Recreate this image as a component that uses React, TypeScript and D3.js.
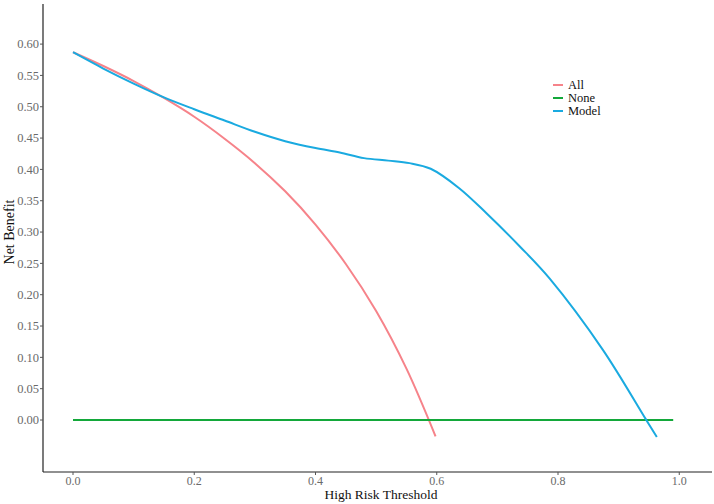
import React from "react";
import * as d3 from "d3";

type Pt = { t: number; nb: number };

// threshold probabilities and net benefit
const allThresholds = [0, 0.05, 0.1, 0.15, 0.2, 0.25, 0.3, 0.35, 0.4, 0.45, 0.5, 0.55, 0.598];
const allBenefit = [0.587, 0.565, 0.541, 0.514, 0.484, 0.449, 0.41, 0.365, 0.312, 0.249, 0.174, 0.082, -0.026];

const noneThresholds = [0, 0.99];
const noneBenefit = [0, 0];

const modelThresholds = [0, 0.05, 0.1, 0.15, 0.2, 0.25, 0.3, 0.35, 0.4, 0.44, 0.48, 0.52, 0.555, 0.59, 0.637, 0.682, 0.737, 0.786, 0.874, 0.945, 0.963];
const modelBenefit = [0.587, 0.561, 0.537, 0.515, 0.496, 0.478, 0.46, 0.445, 0.434, 0.427, 0.418, 0.414, 0.41, 0.401, 0.37, 0.33, 0.277, 0.226, 0.112, 0.001, -0.027];

const yTicks = [0, 0.05, 0.1, 0.15, 0.2, 0.25, 0.3, 0.35, 0.4, 0.45, 0.5, 0.55, 0.6];
const xTicks = [0, 0.2, 0.4, 0.6, 0.8, 1.0];

const series = [
    { name: "All", color: "#F6838A", t: allThresholds, v: allBenefit },
    { name: "None", color: "#13A83A", t: noneThresholds, v: noneBenefit },
    { name: "Model", color: "#1AAAE0", t: modelThresholds, v: modelBenefit },
];

const W = 714;
const H = 504;
const left = 43;
const right = 712;
const top = 4;
const bottom = 472;
const font = "'Liberation Serif', 'Times New Roman', serif";

export default function App() {
    const x = d3.scaleLinear().domain([-0.0495, 1.054]).range([left, right]);
    const y = d3.scaleLinear().domain([-0.083, 0.664]).range([bottom, top]);

    const line = d3
        .line<Pt>()
        .x((d) => x(d.t))
        .y((d) => y(d.nb))
        .curve(d3.curveCatmullRom.alpha(0.5));

    return (
        <svg
            width={W}
            height={H}
            style={{ position: "absolute", left: 0, top: 0, background: "#fff" }}
            fontFamily={font}
        >
            {series.map((s) => (
                <path
                    key={s.name}
                    d={line(s.t.map((t, i) => ({ t, nb: s.v[i] }))) ?? ""}
                    fill="none"
                    stroke={s.color}
                    strokeWidth={2}
                />
            ))}

            {/* axes */}
            <line x1={left} x2={left} y1={top} y2={bottom} stroke="#222" strokeWidth={1.2} />
            <line x1={left} x2={right} y1={bottom} y2={bottom} stroke="#222" strokeWidth={1.2} />

            {yTicks.map((v) => (
                <g key={v} transform={`translate(0,${y(v)})`}>
                    <line x1={left - 3} x2={left} stroke="#555" />
                    <text x={left - 4} dy="0.35em" textAnchor="end" fontSize={12.5} fill="#6a6a6a">
                        {v.toFixed(2)}
                    </text>
                </g>
            ))}
            {xTicks.map((v) => (
                <g key={v} transform={`translate(${x(v)},0)`}>
                    <line y1={bottom} y2={bottom + 3} stroke="#555" />
                    <text y={bottom + 12.5} textAnchor="middle" fontSize={12} fill="#6a6a6a">
                        {v.toFixed(1)}
                    </text>
                </g>
            ))}

            <text x={381} y={499} textAnchor="middle" fontSize={13.5} fill="#111">
                High Risk Threshold
            </text>
            <text
                transform={`translate(14,${232}) rotate(-90)`}
                textAnchor="middle"
                fontSize={14}
                fill="#111"
            >
                Net Benefit
            </text>

            {/* legend */}
            {series.map((s, i) => (
                <g key={s.name} transform={`translate(553,${85 + i * 13})`}>
                    <line x1={0} x2={10} stroke={s.color} strokeWidth={2} />
                    <text x={15} dy="0.35em" fontSize={12.5} fill="#111">
                        {s.name}
                    </text>
                </g>
            ))}
        </svg>
    );
}
